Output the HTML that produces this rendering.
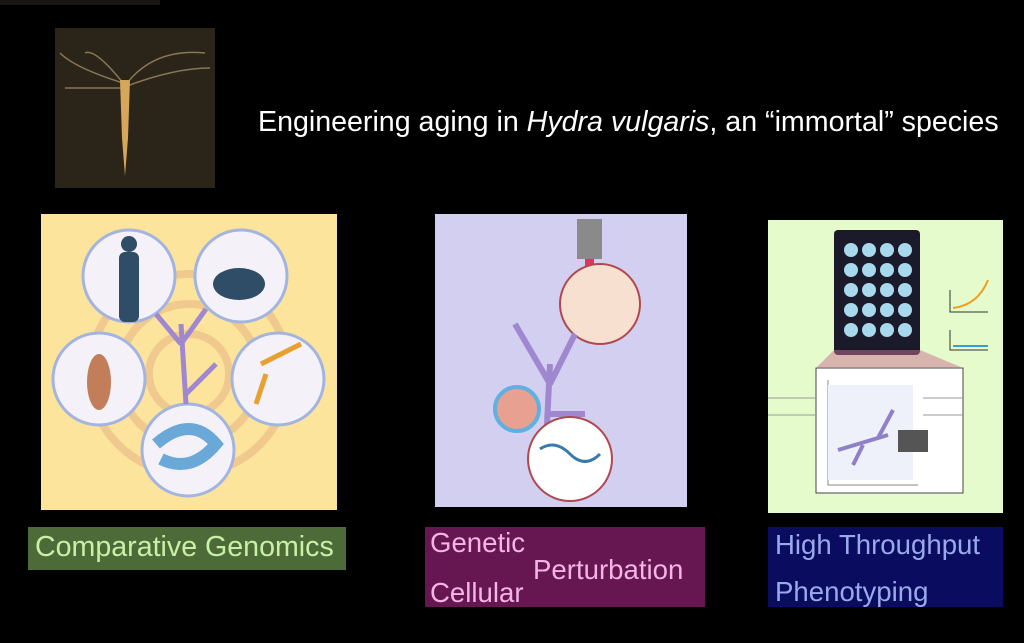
<!DOCTYPE html>
<html><head><style>
body{margin:0;width:1024px;height:643px;background:#000;position:relative;overflow:hidden;font-family:"Liberation Sans",sans-serif}
.a{position:absolute}
</style></head><body>
<div class="a" style="left:0;top:0;width:160px;height:5px;background:#1a1614"></div>
<svg class="a" style="left:55px;top:28px" width="160" height="160">
<rect width="160" height="160" fill="#2b2418"/>
<g stroke="#a08c66" stroke-width="1.5" fill="none" opacity=".8">
<path d="M68 55 Q40 20 30 25 M68 55 Q20 40 5 25 M72 55 Q100 20 150 25 M72 58 Q120 40 155 40 M68 60 Q30 60 10 60"/>
</g>
<path d="M65 52 L75 52 L73 110 L70 148 L67 110Z" fill="#d6a65a"/>
</svg>
<div class="a" style="left:258px;top:106px;color:#fff;font-size:28.6px;white-space:nowrap">Engineering aging in <i>Hydra vulgaris</i>, an “immortal” species</div>

<svg class="a" style="left:41px;top:214px" width="296" height="296">
<rect width="296" height="296" fill="#fde49c"/>
<g fill="none" stroke="#e8b888" stroke-width="8" opacity=".6"><circle cx="148" cy="160" r="40"/><circle cx="148" cy="160" r="70"/><circle cx="148" cy="160" r="100"/></g>
<g fill="#f4f2f8" stroke="#a4b4e0" stroke-width="3">
<circle cx="88" cy="62" r="46"/><circle cx="200" cy="62" r="46"/><circle cx="58" cy="165" r="46"/><circle cx="237" cy="165" r="46"/><circle cx="147" cy="236" r="46"/></g>
<rect x="78" y="38" width="20" height="70" rx="6" fill="#2f4d66"/><circle cx="88" cy="30" r="8" fill="#2f4d66"/>
<ellipse cx="198" cy="70" rx="26" ry="16" fill="#2f4d66"/>
<ellipse cx="58" cy="168" rx="12" ry="28" fill="#c27d5a"/>
<path d="M115 230 Q150 200 175 230 Q150 260 120 245" stroke="#6aa8d8" stroke-width="12" fill="none"/>
<path d="M220 150 Q240 140 260 130 M225 160 L215 190" stroke="#e8a030" stroke-width="5" fill="none"/>
<path d="M145 190 L140 110 M140 130 L115 100 M140 130 L165 95 M145 180 L175 150" stroke="#a088d0" stroke-width="5" fill="none"/>
</svg>

<svg class="a" style="left:435px;top:214px" width="252" height="293">
<rect width="252" height="293" fill="#d2cff0"/>
<rect x="142" y="5" width="25" height="40" fill="#8a8a8a"/><rect x="150" y="45" width="9" height="45" fill="#e83060"/>
<circle cx="165" cy="90" r="40" fill="#f8e0d0" stroke="#b04850" stroke-width="2"/>
<path d="M110 250 L115 150 M115 170 L80 110 M115 170 L140 120 M112 200 L150 200" stroke="#a088d0" stroke-width="6" fill="none"/>
<circle cx="82" cy="195" r="22" fill="#e8a090" stroke="#60b0e0" stroke-width="4"/>
<circle cx="135" cy="245" r="42" fill="#fff" stroke="#b04850" stroke-width="2"/>
<path d="M105 235 Q120 225 135 240 Q150 255 165 240" stroke="#3a7aa8" stroke-width="3" fill="none"/>
</svg>

<svg class="a" style="left:768px;top:220px" width="235" height="293">
<rect width="235" height="293" fill="#e6fbcc"/>
<rect x="66" y="10" width="86" height="125" rx="4" fill="#1a1a2a"/>
<g fill="#a8d8ec">
<circle cx="83" cy="30" r="7"/><circle cx="101" cy="30" r="7"/><circle cx="119" cy="30" r="7"/><circle cx="137" cy="30" r="7"/>
<circle cx="83" cy="50" r="7"/><circle cx="101" cy="50" r="7"/><circle cx="119" cy="50" r="7"/><circle cx="137" cy="50" r="7"/>
<circle cx="83" cy="70" r="7"/><circle cx="101" cy="70" r="7"/><circle cx="119" cy="70" r="7"/><circle cx="137" cy="70" r="7"/>
<circle cx="83" cy="90" r="7"/><circle cx="101" cy="90" r="7"/><circle cx="119" cy="90" r="7"/><circle cx="137" cy="90" r="7"/>
<circle cx="83" cy="110" r="7"/><circle cx="101" cy="110" r="7"/><circle cx="119" cy="110" r="7"/><circle cx="137" cy="110" r="7"/>
</g>
<path d="M182 70 L182 92 L220 92 M182 110 L182 130 L220 130" stroke="#333" fill="none"/>
<path d="M185 88 Q210 85 220 60" stroke="#f0a020" stroke-width="2" fill="none"/>
<path d="M185 126 L220 126" stroke="#30a0e0" stroke-width="2"/>
<rect x="48" y="148" width="147" height="125" fill="#fff" stroke="#444"/>
<path d="M60 160 L60 265 L150 265" stroke="#888" fill="none"/>
<rect x="60" y="165" width="85" height="95" fill="#eef0fa"/>
<path d="M70 230 L120 215 M95 225 L85 245 M110 218 L125 190" stroke="#9080c8" stroke-width="4" fill="none"/>
<rect x="130" y="210" width="30" height="22" fill="#555"/>
<path d="M0 178 L48 178 M0 195 L48 195 M155 178 L195 178 M155 195 L195 195" stroke="#999"/>
<path d="M66 130 L48 148 L195 148 L152 130Z" fill="#c87090" opacity=".5"/>
</svg>

<div class="a" style="left:28px;top:527px;width:318px;height:43px;background:#4d6b38;color:#c8f0a6;font-size:28.6px;line-height:40px;padding-left:7px;box-sizing:border-box;white-space:nowrap">Comparative Genomics</div>
<div class="a" style="left:425px;top:527px;width:280px;height:80px;background:#661650;color:#f4b4e6;font-size:27.6px;white-space:nowrap">
<span class="a" style="left:5px;top:0px">Genetic</span><span class="a" style="left:108px;top:27px">Perturbation</span><span class="a" style="left:5px;top:50px">Cellular</span></div>
<div class="a" style="left:768px;top:527px;width:235px;height:80px;background:#0a0c60;color:#9aa8ec;font-size:27.6px;white-space:nowrap">
<span class="a" style="left:7px;top:2px">High Throughput</span><span class="a" style="left:7px;top:49px">Phenotyping</span></div>
</body></html>
